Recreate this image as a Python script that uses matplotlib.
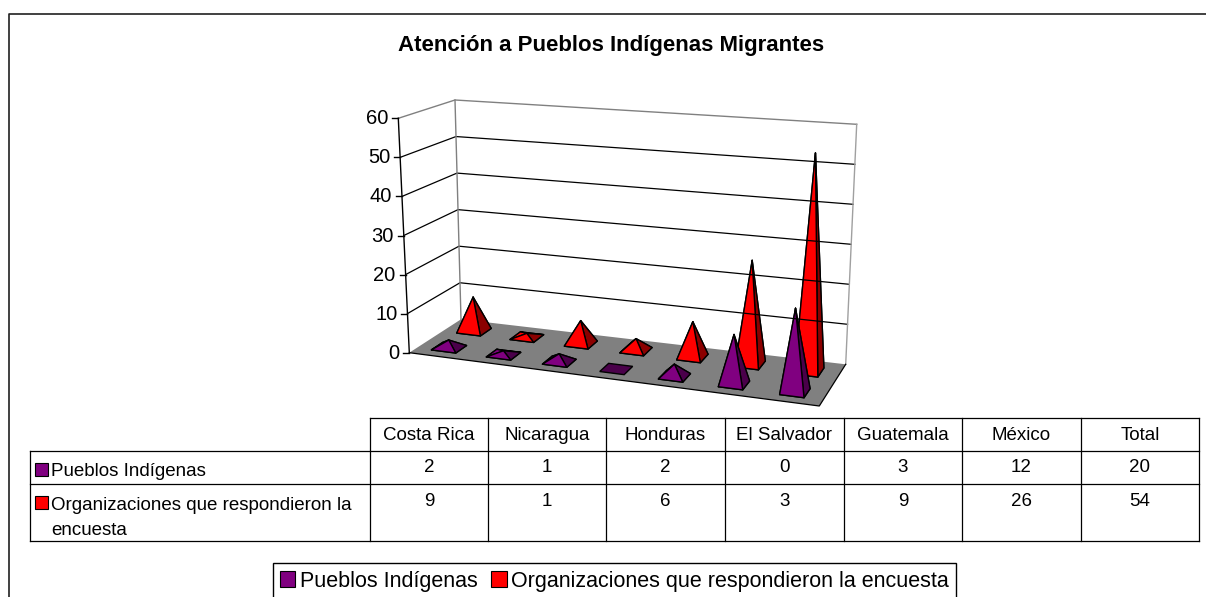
# -*- coding: utf-8 -*-
import numpy as np
import matplotlib
matplotlib.use('Agg')
import matplotlib.pyplot as plt
from matplotlib.patches import Polygon, Patch

plt.rcParams['font.family'] = ['Liberation Sans', 'DejaVu Sans']

categories = ['Costa Rica', 'Nicaragua', 'Honduras', 'El Salvador', 'Guatemala', 'México', 'Total']
pueblos = [2, 1, 2, 0, 3, 12, 20]
organizaciones = [9, 1, 6, 3, 9, 26, 54]
serie1 = 'Pueblos Indígenas'
serie2 = 'Organizaciones que respondieron la encuesta'
serie2_tabla = 'Organizaciones que respondieron la\nencuesta'
titulo = 'Atención a Pueblos Indígenas Migrantes'
yticks = [0, 10, 20, 30, 40, 50, 60]

YMAX = 60.0
PURPLE, PURPLE_D = '#800080', '#4a004a'
RED, RED_D = '#ff0000', '#8b0000'
GRAY = '#808080'

# box corners in pixels (front/back, left/right, bottom/top)
FLB = np.array([409.3, 352.7])
FRB = np.array([819.3, 406.0])
BLB = np.array([461.0, 319.3])
BRB = np.array([845.7, 364.3])
FLT = np.array([398.3, 118.3])
FRT = np.array([819.3, 150.0])
BLT = np.array([455.0, 100.0])
BRT = np.array([856.7, 124.3])


def proj(u, w, v):
    # u along categories, w depth (0 front, 1 back), v height, all 0..1
    bottom = (1-w)*((1-u)*FLB + u*FRB) + w*((1-u)*BLB + u*BRB)
    top = (1-w)*((1-u)*FLT + u*FRT) + w*((1-u)*BLT + u*BRT)
    return (1-v)*bottom + v*top


def warp(u, k=1.08):
    # right side is closer to the camera, so categories spread out there
    return u/(k + (1-k)*u)


fig = plt.figure(figsize=(12.06, 5.97), dpi=100)
ax = fig.add_axes([0, 0, 1, 1])
ax.set_xlim(0, 1206)
ax.set_ylim(597, 0)
ax.axis('off')

# frame
ax.plot([9, 9, 1206], [597, 13.5, 13.5], color='#202020', lw=1.2)

ax.text(611, 45.5, titulo, ha='center', va='center', fontsize=16, fontweight='bold')

# walls
for t in yticks[1:-1]:
    v = t/YMAX
    a, b, c = proj(0, 0, v), proj(0, 1, v), proj(1, 1, v)
    ax.plot([a[0], b[0], c[0]], [a[1], b[1], c[1]], color='black', lw=0.9)
a, b, c = proj(0, 0, 1), proj(0, 1, 1), proj(1, 1, 1)
ax.plot([a[0], b[0], c[0]], [a[1], b[1], c[1]], color=GRAY, lw=1)
ax.plot([BLB[0], BLT[0]], [BLB[1], BLT[1]], color=GRAY, lw=1)
ax.plot([BRB[0], BRT[0]], [BRB[1], BRT[1]], color='#a0a0a0', lw=1)

# floor
ax.add_patch(Polygon([FLB, FRB, BRB, BLB], closed=True, fc=GRAY, ec='none'))
ax.plot([FLB[0], FRB[0], BRB[0]], [FLB[1], FRB[1], BRB[1]], color='black', lw=0.9)

# value axis
ax.plot([FLB[0], FLT[0]], [FLB[1], FLT[1]], color='black', lw=1)
for t in yticks:
    p = proj(0, 0, t/YMAX)
    ax.plot([p[0]-6, p[0]], [p[1], p[1]], color='black', lw=1)
    ax.text(p[0]-10, p[1]+0.5, str(t), ha='right', va='center', fontsize=14.5)


def pyramid(i, depth, value, color, dark):
    n = len(categories)
    uc = warp((i+0.5)/n)
    du, dw = 0.21/n, 0.11
    fl = proj(uc-du, depth-dw, 0)
    fr = proj(uc+du, depth-dw, 0)
    br = proj(uc+du, depth+dw, 0)
    bl = proj(uc-du, depth+dw, 0)
    apex = proj(uc, depth, value/YMAX)
    ax.add_patch(Polygon([fl, fr, br, bl], closed=True, fc=dark, ec='black', lw=1))
    if value == 0:
        return
    for face, col in [((bl, br), dark), ((fl, bl), color), ((fr, br), dark), ((fl, fr), color)]:
        ax.add_patch(Polygon([face[0], face[1], apex], closed=True, fc=col, ec='black', lw=1, joinstyle='round'))


for i, val in enumerate(organizaciones):
    pyramid(i, 0.75, val, RED, RED_D)
for i, val in enumerate(pueblos):
    pyramid(i, 0.25, val, PURPLE, PURPLE_D)

# data table
col_x = [370, 488, 606, 725, 844, 962, 1081, 1199]
row_y = [418, 451, 484, 541]
left_x = 30
table_fs = 13.5
for x in col_x:
    ax.plot([x, x], [row_y[0], row_y[-1]], color='black', lw=0.9)
ax.plot([col_x[0], col_x[-1]], [row_y[0], row_y[0]], color='black', lw=0.9)
for y in row_y[1:]:
    ax.plot([left_x, col_x[-1]], [y, y], color='black', lw=0.9)
ax.plot([left_x, left_x], [row_y[1], row_y[-1]], color='black', lw=0.9)

for j, name in enumerate(categories):
    xc = (col_x[j]+col_x[j+1])/2
    ax.text(xc, 435, name, ha='center', va='center', fontsize=table_fs)
    ax.text(xc, 467.5, str(pueblos[j]), ha='center', va='center', fontsize=table_fs)
    ax.text(xc, 501.5, str(organizaciones[j]), ha='center', va='center', fontsize=table_fs)

ax.add_patch(plt.Rectangle((35, 463), 13, 13, fc=PURPLE, ec='black', lw=0.8))
ax.add_patch(plt.Rectangle((35, 496), 13, 13, fc=RED, ec='black', lw=0.8))
ax.text(51, 471, serie1, ha='left', va='center', fontsize=table_fs)
ax.text(51, 518, serie2_tabla, ha='left', va='center', fontsize=table_fs, linespacing=1.6)

# legend
handles = [Patch(fc=PURPLE, ec='black', lw=0.8, label=serie1),
           Patch(fc=RED, ec='black', lw=0.8, label=serie2)]
ax.legend(handles=handles, loc='center', bbox_to_anchor=(614.5, 581), bbox_transform=ax.transData,
          ncol=2, fontsize=15.5, frameon=True, fancybox=False, edgecolor='black', framealpha=1,
          handlelength=0.7, handleheight=0.7, handletextpad=0.2, columnspacing=0.65, borderpad=0.33,
          borderaxespad=0)

fig.savefig('out.png', dpi=100)
